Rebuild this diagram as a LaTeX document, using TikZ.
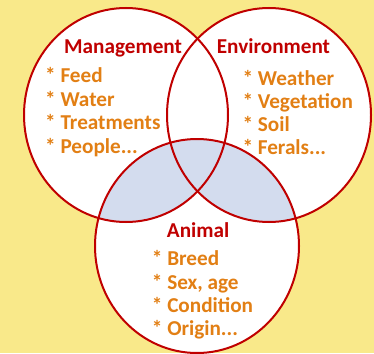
\documentclass[tikz,border=0pt]{standalone}
\usepackage{fontspec}
\setmainfont{Carlito}
\definecolor{bgyellow}{HTML}{F9E98A}
\definecolor{ringred}{HTML}{C00000}
\definecolor{lensblue}{HTML}{D3DCEE}
\definecolor{itemorange}{HTML}{E27F14}
\begin{document}
\begin{tikzpicture}[x=1pt,y=-1pt,
  ring/.style={draw=ringred,line width=2pt},
  title/.style={font=\bfseries\fontsize{21.2}{24}\selectfont,text=ringred,inner sep=0pt,anchor=base west},
  item/.style={font=\bfseries\fontsize{21.2}{24}\selectfont,text=itemorange,inner sep=0pt,anchor=base west}]
\useasboundingbox (0,0) rectangle (374,353);
\fill[bgyellow] (0,0) rectangle (374,353);
\coordinate (cm) at (126,115);
\coordinate (ce) at (269,115);
\coordinate (ca) at (197,246);
\tikzset{rad/.style={x radius=102pt,y radius=107pt}}
\fill[white] (cm) ellipse [rad];
\fill[white] (ce) ellipse [rad];
\fill[white] (ca) ellipse [rad];
\begin{scope}
  \clip (ca) ellipse [rad];
  \fill[lensblue] (cm) ellipse [rad];
  \fill[lensblue] (ce) ellipse [rad];
\end{scope}
\draw[ring] (cm) ellipse [rad];
\draw[ring] (ce) ellipse [rad];
\draw[ring] (ca) ellipse [rad];
\node[title] (tm) at (64,53.3) {Management};
\node[title] (te) at (216.7,53.3) {Environment};
\node[title] (ta) at (166.7,237.7) {Animal};
\node[item] (m1) at (45,82.7) {* Feed};
\node[item] (m2) at (45,106) {* Water};
\node[item] (m3) at (45,129.5) {* Treatments};
\node[item] (m4) at (45,153.3) {* People...};
\node[item] (e1) at (242.3,85) {* Weather};
\node[item] (e2) at (242.3,108) {* Vegetation};
\node[item] (e3) at (242.3,131) {* Soil};
\node[item] (e4) at (242.3,154.3) {* Ferals...};
\node[item] (a1) at (151.7,265.7) {* Breed};
\node[item] (a2) at (151.7,289.3) {* Sex, age};
\node[item] (a3) at (151.7,312.7) {* Condition};
\node[item] (a4) at (151.7,335.7) {* Origin...};
\end{tikzpicture}
\end{document}
